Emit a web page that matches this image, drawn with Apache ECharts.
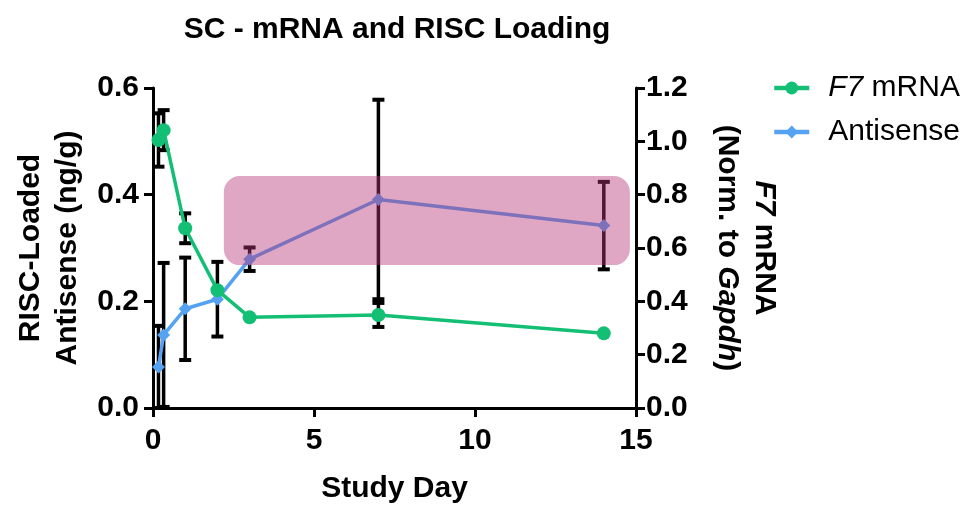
<!DOCTYPE html>
<html>
<head>
<meta charset="utf-8">
<title>SC - mRNA and RISC Loading</title>
<script src="https://cdn.jsdelivr.net/npm/echarts@6/dist/echarts.min.js"></script>
<style>
  html, body { margin: 0; padding: 0; background: #fff; }
  #chart { width: 966px; height: 505px; }
</style>
</head>
<body>
<div id="chart"></div>
<script>
// Sampling days (4 h, 8 h, then days 1-14)
const studyDays = [0.17, 0.33, 1, 2, 3, 7, 14];

// F7 mRNA normalised to Gapdh (right axis), mean and error
const f7Mrna    = [1.005, 1.042, 0.674, 0.442, 0.340, 0.349, 0.280];
const f7MrnaErr = [0.100, 0.075, 0.056, 0,     0,     0.045, 0];

// RISC-loaded antisense, ng/g (left axis), mean and error
const antisense    = [0.077, 0.137, 0.186, 0.204, 0.279, 0.391, 0.342];
const antisenseErr = [0.077, 0.135, 0.096, 0.070, 0.022, 0.187, 0.082];

// Shaded window: day range and antisense level range
const windowDays   = [2.2, 14.81];
const windowLevels = [0.268, 0.435];

// Axis ticks
const dayTicks = [0, 5, 10, 15];
const leftTicks = [0, 0.2, 0.4, 0.6];
const rightTicks = [0, 0.2, 0.4, 0.6, 0.8, 1.0, 1.2];

const FONT = '"Liberation Sans", Arial, Helvetica, sans-serif';
const GREEN = '#13bf74';
const BLUE = '#55a1f2';

function pairs(xs, ys) { return xs.map((x, i) => [x, ys[i]]); }
function errRows(xs, ys, es) {
  const rows = [];
  xs.forEach((x, i) => { if (es[i] > 0) rows.push([x, Math.max(0, ys[i] - es[i]), ys[i] + es[i]]); });
  return rows;
}

function renderErrorBar(params, api) {
  const x = api.value(0);
  const top = api.coord([x, api.value(2)]);
  const bot = api.coord([x, api.value(1)]);
  const half = 6;
  const st = { stroke: '#000', lineWidth: 3.5 };
  return {
    type: 'group',
    children: [
      { type: 'line', shape: { x1: top[0], y1: top[1], x2: bot[0], y2: bot[1] }, style: st },
      { type: 'line', shape: { x1: top[0] - half, y1: top[1], x2: top[0] + half, y2: top[1] }, style: { stroke: '#000', lineWidth: 4 } },
      { type: 'line', shape: { x1: bot[0] - half, y1: bot[1], x2: bot[0] + half, y2: bot[1] }, style: { stroke: '#000', lineWidth: 4 } }
    ]
  };
}

function renderWindow(params, api) {
  const a = api.coord([api.value(0), api.value(3)]);
  const b = api.coord([api.value(2), api.value(1)]);
  return {
    type: 'rect',
    shape: { x: a[0], y: a[1], width: b[0] - a[0], height: b[1] - a[1], r: 16 },
    style: { fill: 'rgba(180, 50, 115, 0.43)' }
  };
}

const tickLabelStyle = { color: '#000', fontFamily: FONT, fontWeight: 'bold', fontSize: 30 };
const axisLineStyle = { show: true, lineStyle: { color: '#000', width: 3 } };
const axisTickStyle = { show: true, length: 9, lineStyle: { color: '#000', width: 3 } };

const chart = echarts.init(document.getElementById('chart'), null, { renderer: 'canvas' });

chart.setOption({
  animation: false,
  backgroundColor: '#fff',
  title: {
    text: 'SC - mRNA and RISC Loading',
    left: 392,
    textAlign: 'center',
    top: 10,
    textStyle: { color: '#000', fontFamily: FONT, fontWeight: 'bold', fontSize: 30 }
  },
  legend: {
    orient: 'vertical',
    left: 772,
    top: 73,
    padding: 0,
    itemGap: 14,
    itemWidth: 35,
    itemHeight: 16,
    lineStyle: { width: 4.5 },
    data: ['F7 mRNA', 'Antisense'],
    formatter: name => name === 'F7 mRNA' ? '{i|F7} mRNA' : name,
    textStyle: {
      color: '#000', fontFamily: FONT, fontSize: 30, padding: [0, 0, 0, 14],
      rich: { i: { fontStyle: 'italic', fontFamily: FONT, fontSize: 30, color: '#000' } }
    }
  },
  grid: { left: 153, right: 330, top: 88, bottom: 97, containLabel: false, outerBoundsMode: 'none' },
  xAxis: {
    type: 'value',
    min: dayTicks[0],
    max: dayTicks[dayTicks.length - 1],
    interval: dayTicks[1] - dayTicks[0],
    name: 'Study Day',
    nameLocation: 'middle',
    nameGap: 66,
    nameTextStyle: { color: '#000', fontFamily: FONT, fontWeight: 'bold', fontSize: 30 },
    axisLine: axisLineStyle,
    axisTick: axisTickStyle,
    splitLine: { show: false },
    axisLabel: Object.assign({ margin: 18 }, tickLabelStyle)
  },
  yAxis: [
    {
      type: 'value',
      position: 'left',
      min: leftTicks[0],
      max: leftTicks[leftTicks.length - 1],
      interval: leftTicks[1] - leftTicks[0],
      name: 'RISC-Loaded\nAntisense (ng/g)',
      nameLocation: 'middle',
      nameRotate: 90,
      nameGap: 67,
      nameTextStyle: { color: '#000', fontFamily: FONT, fontWeight: 'bold', fontSize: 30, lineHeight: 37 },
      axisLine: axisLineStyle,
      axisTick: axisTickStyle,
      splitLine: { show: false },
      axisLabel: Object.assign({ margin: 14, formatter: v => v.toFixed(1) }, tickLabelStyle)
    },
    {
      type: 'value',
      position: 'right',
      min: rightTicks[0],
      max: rightTicks[rightTicks.length - 1],
      interval: rightTicks[1] - rightTicks[0],
      name: '{i|F7} mRNA\n(Norm. to {i|Gapdh})',
      nameLocation: 'middle',
      nameRotate: -90,
      nameGap: 73,
      nameTextStyle: {
        color: '#000', fontFamily: FONT, fontWeight: 'bold', fontSize: 30, lineHeight: 37,
        rich: { i: { fontStyle: 'italic', fontWeight: 'bold', fontFamily: FONT, fontSize: 30, color: '#000', lineHeight: 37 } }
      },
      axisLine: axisLineStyle,
      axisTick: axisTickStyle,
      splitLine: { show: false },
      axisLabel: Object.assign({ margin: 10, formatter: v => v.toFixed(1) }, tickLabelStyle)
    }
  ],
  series: [
    {
      name: 'Antisense error',
      type: 'custom',
      yAxisIndex: 0,
      z: 1,
      silent: true,
      renderItem: renderErrorBar,
      encode: { x: 0, y: [1, 2] },
      data: errRows(studyDays, antisense, antisenseErr)
    },
    {
      name: 'F7 mRNA error',
      type: 'custom',
      yAxisIndex: 1,
      z: 1,
      silent: true,
      renderItem: renderErrorBar,
      encode: { x: 0, y: [1, 2] },
      data: errRows(studyDays, f7Mrna, f7MrnaErr)
    },
    {
      name: 'Antisense',
      type: 'line',
      yAxisIndex: 0,
      z: 3,
      symbol: 'diamond',
      symbolSize: 13,
      color: BLUE,
      lineStyle: { color: BLUE, width: 3.5 },
      itemStyle: { color: BLUE },
      data: pairs(studyDays, antisense)
    },
    {
      name: 'F7 mRNA',
      type: 'line',
      yAxisIndex: 1,
      z: 4,
      symbol: 'circle',
      symbolSize: 14,
      color: GREEN,
      lineStyle: { color: GREEN, width: 3.5 },
      itemStyle: { color: GREEN },
      data: pairs(studyDays, f7Mrna)
    },
    {
      name: 'Window',
      type: 'custom',
      yAxisIndex: 0,
      z: 6,
      silent: true,
      renderItem: renderWindow,
      encode: { x: [0, 2], y: [1, 3] },
      data: [[windowDays[0], windowLevels[0], windowDays[1], windowLevels[1]]]
    }
  ]
});
</script>
</body>
</html>
